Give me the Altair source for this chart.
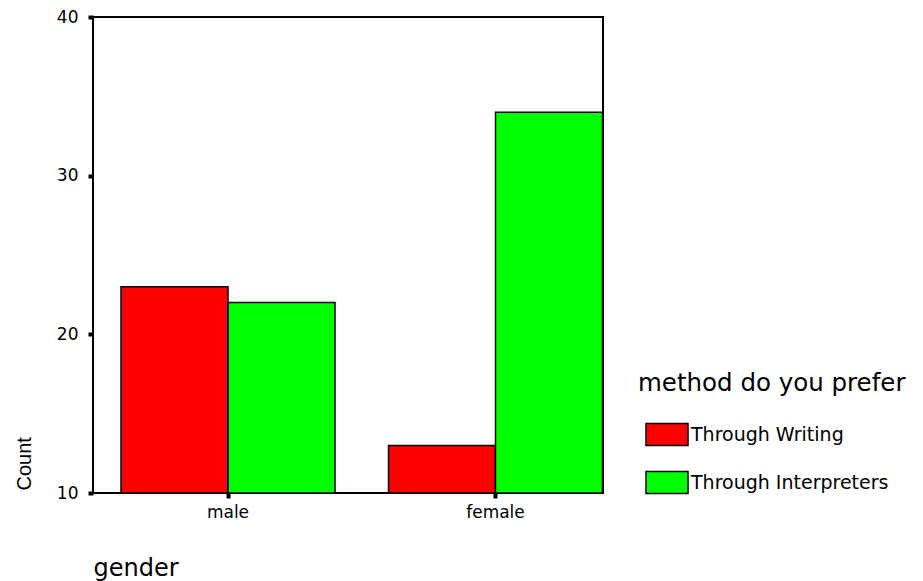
import altair as alt
import pandas as pd

genders = ["male", "male", "female", "female"]
methods = ["Through Writing", "Through Interpreters", "Through Writing", "Through Interpreters"]
counts = [23, 22, 13, 34]

gender_order = ["male", "female"]
method_order = ["Through Writing", "Through Interpreters"]
colors = ["#FF0000", "#00FF00"]
y_ticks = [10, 20, 30, 40]

df = pd.DataFrame({"gender": genders, "method": methods, "count": counts})

bars = alt.Chart(df).mark_bar(stroke="black", strokeWidth=1.5).encode(
    x=alt.X(
        "gender:N",
        sort=gender_order,
        scale=alt.Scale(range=[28, 509.5], paddingInner=0.2, paddingOuter=0),
        axis=alt.Axis(
            title="gender",
            titleFont="DejaVu Sans",
            titleFontSize=24,
            titleFontWeight="normal",
            titleColor="black",
            titleAnchor="start",
            titleAlign="left",
            titleBaseline="alphabetic",
            titleX=0,
            titleY=82,
            labelFont="DejaVu Sans",
            labelFontSize=17,
            labelColor="black",
            labelAngle=0,
            labelPadding=6,
            domain=False,
            ticks=True,
            tickSize=5,
            tickWidth=4,
            tickColor="black",
            grid=False,
        ),
    ),
    xOffset=alt.XOffset(
        "method:N",
        sort=method_order,
        scale=alt.Scale(paddingInner=0, paddingOuter=0),
    ),
    y=alt.Y(
        "count:Q",
        scale=alt.Scale(domain=[10, 40], nice=False, zero=False),
        axis=alt.Axis(
            title="Count",
            titleFont="Liberation Sans",
            titleFontSize=20,
            titleFontWeight="normal",
            titleColor="black",
            titleAngle=-90,
            titleAlign="left",
            titleBaseline="alphabetic",
            titleX=-63,
            titleY=473,
            values=y_ticks,
            labelFont="DejaVu Sans",
            labelFontSize=17,
            labelColor="black",
            labelPadding=10,
            domain=False,
            ticks=True,
            tickSize=5,
            tickWidth=4,
            tickColor="black",
            grid=False,
        ),
    ),
    y2=alt.datum(10),
    color=alt.Color(
        "method:N",
        sort=method_order,
        scale=alt.Scale(domain=method_order, range=colors),
        legend=alt.Legend(
            title="method do you prefer",
            orient="none",
            legendX=545,
            legendY=355,
            padding=0,
            titleFont="DejaVu Sans",
            titleFontSize=24.5,
            titleFontWeight="normal",
            titleColor="black",
            titlePadding=16,
            titleLimit=400,
            labelFont="DejaVu Sans",
            labelFontSize=19,
            labelColor="black",
            labelOffset=2,
            labelLimit=400,
            symbolType="M-1,-0.52H1V0.52H-1Z",
            symbolSize=1764,
            symbolStrokeColor="black",
            symbolStrokeWidth=1.5,
            symbolOffset=7,
            rowPadding=12,
        ),
    ),
)

chart = bars.properties(
    width=510,
    height=476,
    background="white",
    autosize=alt.AutoSizeParams(type="none"),
    padding={"left": 85, "top": 9, "right": 312, "bottom": 100},
).configure_view(stroke="black", strokeWidth=2)

chart.save("out.html", embed_options={"renderer": "svg", "actions": False})
